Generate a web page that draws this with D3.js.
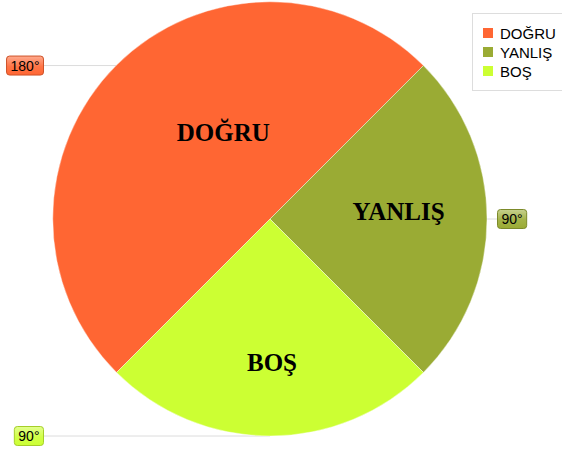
<!DOCTYPE html>
<html>
<head>
<meta charset="utf-8">
<script src="https://cdn.jsdelivr.net/npm/d3@7"></script>
<style>
html,body{margin:0;padding:0;background:#fff;}
svg{display:block;}
</style>
</head>
<body>
<svg id="chart" width="562" height="451"></svg>
<script>
const categories = ["DOĞRU", "YANLIŞ", "BOŞ"];
const values = [180, 90, 90];
const valueLabels = ["180°", "90°", "90°"];
const colors = ["#ff6633", "#9aab34", "#ccff33"];

const svg = d3.select("#chart");
const cx = 270, cy = 219, R = 217;

const defs = svg.append("defs");
colors.forEach((c, i) => {
  const g = defs.append("linearGradient").attr("id", "lg" + i)
    .attr("x1", 0).attr("y1", 0).attr("x2", 0).attr("y2", 1);
  g.append("stop").attr("offset", "0%").attr("stop-color", d3.interpolateRgb(c, "#fff")(0.45));
  g.append("stop").attr("offset", "55%").attr("stop-color", d3.interpolateRgb(c, "#fff")(0.1));
  g.append("stop").attr("offset", "100%").attr("stop-color", c);
});

const data = categories.map((c, i) => ({ cat: c, value: values[i], label: valueLabels[i], color: colors[i] }));

const pie = d3.pie().value(d => d.value).sort(null)
  .startAngle(-3 * Math.PI / 4).endAngle(5 * Math.PI / 4);
const arcs = pie(data);
const arc = d3.arc().innerRadius(0).outerRadius(R);

const g = svg.append("g").attr("transform", `translate(${cx},${cy})`);

// leader lines (behind slices)
const leftX = 43 - cx, rightX = 497 - cx;
arcs.forEach(a => {
  const mid = (a.startAngle + a.endAngle) / 2;
  const px = Math.sin(mid) * R, py = -Math.cos(mid) * R;
  const isRight = px > 1;
  const lx = isRight ? rightX : leftX;
  g.append("line").attr("x1", px).attr("y1", py).attr("x2", lx).attr("y2", py)
    .attr("stroke", "#dcdcdc").attr("stroke-width", 1);
});

g.selectAll("path.slice").data(arcs).join("path")
  .attr("class", "slice")
  .attr("d", arc)
  .attr("fill", d => d.data.color)
  .attr("stroke", "#ffffff")
  .attr("stroke-opacity", 0.5)
  .attr("stroke-width", 0.8);

// slice labels
const labelShift = [[30, -10], [20, -8], [2, 35]];
const cArc = d3.arc().innerRadius(0).outerRadius(R);
arcs.forEach((a, i) => {
  const [x, y] = cArc.centroid(a);
  g.append("text")
    .attr("x", x + labelShift[i][0]).attr("y", y + labelShift[i][1] + 8.5)
    .attr("text-anchor", "middle")
    .attr("font-family", "'Liberation Serif', 'Times New Roman', serif")
    .attr("font-weight", "bold")
    .attr("font-size", 25)
    .attr("fill", "#000")
    .text(a.data.cat);
});

// value label boxes
arcs.forEach((a, i) => {
  const mid = (a.startAngle + a.endAngle) / 2;
  const px = Math.sin(mid) * R, py = -Math.cos(mid) * R;
  const isRight = px > 1;
  const t = g.append("text")
    .attr("font-family", "Arial, 'Liberation Sans', sans-serif")
    .attr("font-size", 14)
    .attr("fill", "#000")
    .attr("y", py + 5)
    .text(a.data.label);
  const w = t.node().getComputedTextLength() + 8;
  const bx = isRight ? rightX : leftX - w;
  t.attr("x", bx + 4.5);
  g.insert("rect", () => t.node())
    .attr("x", bx + 0.5).attr("y", py - 9.5)
    .attr("width", w).attr("height", 19)
    .attr("rx", 3)
    .attr("fill", `url(#lg${i})`)
    .attr("stroke", d3.color(a.data.color).darker(0.6))
    .attr("stroke-width", 1);
});

// legend
const lg = svg.append("g");
lg.append("rect").attr("x", 472.5).attr("y", 13.5).attr("width", 100).attr("height", 77)
  .attr("fill", "#fff").attr("stroke", "#dddddd");
data.forEach((d, i) => {
  const y = 33 + i * 19;
  lg.append("rect").attr("x", 483).attr("y", y - 5).attr("width", 10).attr("height", 10).attr("fill", d.color);
  lg.append("text").attr("x", 500).attr("y", y + 5.5)
    .attr("font-family", "Arial, 'Liberation Sans', sans-serif")
    .attr("font-size", 15).attr("fill", "#000").text(d.cat);
});
</script>
</body>
</html>
